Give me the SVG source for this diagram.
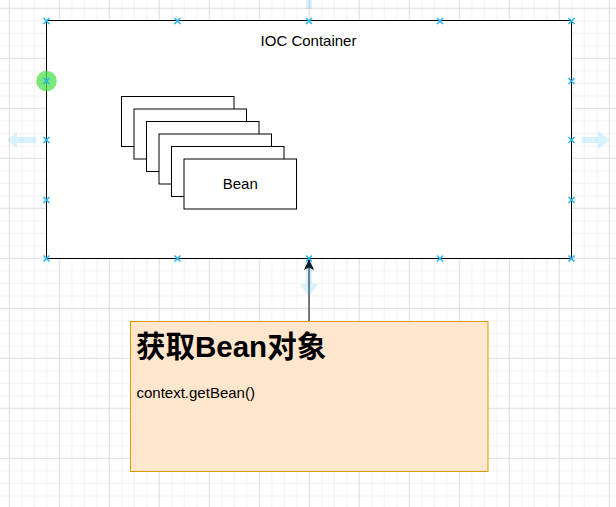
<svg xmlns="http://www.w3.org/2000/svg" xmlns:xlink="http://www.w3.org/1999/xlink" width="616" height="507" viewBox="0 0 616 507">
  <style>
    .lbl { font-family: "Liberation Sans", Arial, "Noto Sans CJK SC", sans-serif; font-size: 15px; fill: #000; }
    .title { font-family: "Liberation Sans", Arial, "Noto Sans CJK SC", sans-serif; font-size: 29.5px; font-weight: bold; fill: #000; }
    .bean { fill: #fff; stroke: #000; stroke-width: 1; }
    .hover { fill: #29b6f2; fill-opacity: 0.18; }
    .handle { stroke: #29b6f2; stroke-width: 1.6; fill: none; }
  </style>
  <defs>
    <pattern id="grid" patternUnits="userSpaceOnUse" x="8.8" y="7.8" width="50" height="50">
      <rect x="0" y="0" width="50" height="50" fill="#fff"/>
      <rect x="12.5" y="0" width="1" height="50" fill="#f1f1f1"/>
      <rect x="25" y="0" width="1" height="50" fill="#f1f1f1"/>
      <rect x="37.5" y="0" width="1" height="50" fill="#f1f1f1"/>
      <rect x="0" y="12.5" width="50" height="1" fill="#f1f1f1"/>
      <rect x="0" y="25" width="50" height="1" fill="#f1f1f1"/>
      <rect x="0" y="37.5" width="50" height="1" fill="#f1f1f1"/>
      <rect x="0" y="0" width="1" height="50" fill="#dedede"/>
      <rect x="0" y="0" width="50" height="1" fill="#dedede"/>
    </pattern>
    <path id="h" class="handle" d="M-3,-3 L3,3 M3,-3 L-3,3"/>
    <marker id="arrow" markerUnits="userSpaceOnUse" markerWidth="12" markerHeight="12" viewBox="0 0 12 12" refX="11" refY="6" orient="auto">
      <path d="M11,6 L0,1 L2.5,6 L0,11 Z" fill="#000"/>
    </marker>
  </defs>

  <rect x="0" y="0" width="616" height="507" fill="url(#grid)"/>

  <g id="ioc-container">
    <rect x="46.5" y="20.5" width="525" height="238" fill="#fff" stroke="#000" stroke-width="1"/>
    <text class="lbl" x="308.5" y="46" text-anchor="middle">IOC Container</text>
  </g>

  <g id="beans">
    <rect class="bean" x="121.5" y="96.5" width="112.5" height="50"/>
    <rect class="bean" x="134" y="109" width="112.5" height="50"/>
    <rect class="bean" x="146.5" y="121.5" width="112.5" height="50"/>
    <rect class="bean" x="159" y="134" width="112.5" height="50"/>
    <rect class="bean" x="171.5" y="146.5" width="112.5" height="50"/>
    <rect class="bean" x="184" y="159" width="112.5" height="50"/>
    <text class="lbl" x="240.3" y="189.3" text-anchor="middle">Bean</text>
  </g>

  <g id="get-bean-note">
    <rect x="130.5" y="321.5" width="357.5" height="150" fill="#ffe6cc" stroke="#d79b00" stroke-width="1"/>
    <text class="title" x="136" y="357">获取Bean对象</text>
    <text class="lbl" x="136.5" y="398">context.getBean()</text>
  </g>

  <g id="connectors">
    <line x1="309" y1="321" x2="309" y2="259" stroke="#000" stroke-width="1" marker-end="url(#arrow)"/>
  </g>

  <g id="editor-overlay">
    <polygon class="hover" points="306,-10 312,-10 312,9 306,9"/>
    <polygon class="hover" points="7,140 17,132 17,137 36,137 36,143 17,143 17,148"/>
    <polygon class="hover" points="582,137 598,137 598,131 610,140 598,149 598,143 582,143"/>
    <polygon class="hover" points="306,262 312,262 312,284 318,284 309,297 300,284 306,284"/>
    <circle cx="46.5" cy="81" r="10.3" fill="#4fe04f" fill-opacity="0.75"/>
    <use href="#h" x="46.5" y="21"/>
    <use href="#h" x="177.5" y="21"/>
    <use href="#h" x="309" y="21"/>
    <use href="#h" x="440" y="21"/>
    <use href="#h" x="571.5" y="21"/>
    <use href="#h" x="46.5" y="81"/>
    <use href="#h" x="46.5" y="140"/>
    <use href="#h" x="46.5" y="200"/>
    <use href="#h" x="571.5" y="81"/>
    <use href="#h" x="571.5" y="140"/>
    <use href="#h" x="571.5" y="200"/>
    <use href="#h" x="46.5" y="258.5"/>
    <use href="#h" x="177.5" y="258.5"/>
    <use href="#h" x="309" y="258.5"/>
    <use href="#h" x="440" y="258.5"/>
    <use href="#h" x="571.5" y="258.5"/>
  </g>
</svg>
